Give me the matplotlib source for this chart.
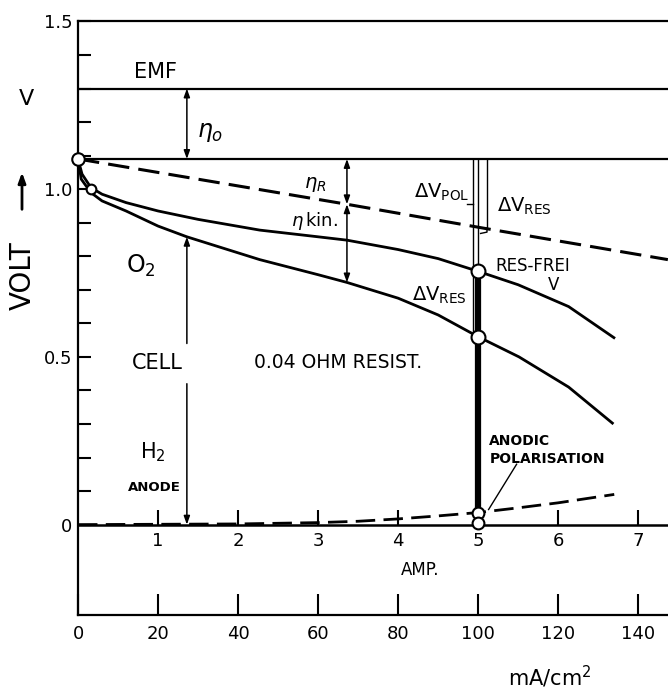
import numpy as np
import matplotlib
matplotlib.use('Agg')
import matplotlib.pyplot as plt
from matplotlib.ticker import FuncFormatter

# readings, current in Amp, potential in Volt
emf = 1.30
rest_v = 1.09

amp_resfree = [0, 0.05, 0.16, 0.3, 0.6, 1.0, 1.5, 2.27, 3.0, 3.36, 4.0, 4.5, 5.0, 5.5, 6.13, 6.71]
v_resfree = [1.09, 1.045, 1.005, 0.985, 0.96, 0.935, 0.91, 0.878, 0.858, 0.848, 0.82, 0.793, 0.755, 0.715, 0.65, 0.555]

amp_cell = [0, 0.04, 0.16, 0.3, 0.6, 1.0, 1.36, 2.27, 3.0, 3.36, 4.0, 4.5, 5.0, 5.51, 6.13, 6.69]
v_cell = [1.09, 1.03, 0.99, 0.965, 0.935, 0.89, 0.858, 0.79, 0.745, 0.722, 0.675, 0.625, 0.56, 0.5, 0.41, 0.30]

amp_ir = [0, 3.36, 5.11, 7.37]
v_ir = [1.09, 0.955, 0.882, 0.79]

amp_anode = [0, 2, 3, 3.5, 4, 4.5, 5, 5.5, 6, 6.7]
v_anode = [0, 0.002, 0.006, 0.01, 0.017, 0.026, 0.036, 0.05, 0.065, 0.09]

amp_ticks = [0, 1, 2, 3, 4, 5, 6, 7]
ma_per_amp = 20   # 5 A -> 100 mA/cm2

i_eta = 1.36      # current where eta_0 and cell arrows sit
i_kin = 3.36
i_op = 5.0

fig = plt.figure(figsize=(6.68, 6.92), dpi=100)
ax = fig.add_axes([0.1168, 0.111, 0.883, 0.858])
ax.set_xlim(0, 7.37)
ax.set_ylim(-0.27, 1.5)

for s in ['left', 'top', 'bottom']:
    ax.spines[s].set_linewidth(1.6)
ax.spines['right'].set_visible(False)

ax.set_yticks([0, 0.5, 1.0, 1.5])
ax.set_yticklabels(['0', '0.5', '1.0', '1.5'])
ax.set_yticks(np.arange(0, 1.5, 0.1), minor=True)
ax.tick_params(axis='y', which='both', direction='in', length=9, width=1.5,
               labelsize=13, pad=4)
ax.set_xticks(amp_ticks)
ax.xaxis.set_major_formatter(FuncFormatter(lambda x, pos: '{:.0f}'.format(x * ma_per_amp)))
ax.tick_params(axis='x', which='both', direction='in', length=15, width=1.5,
               labelsize=13, pad=7)

k = dict(color='black', solid_capstyle='butt')
ax.axhline(emf, lw=1.6, **k)
ax.axhline(rest_v, lw=1.6, **k)
ax.axhline(0, lw=1.8, **k)

# amp scale on the zero line
ax.vlines(amp_ticks[1:], 0, 0.045, lw=1.5, color='black')
for a in amp_ticks[1:]:
    ax.text(a, -0.05, str(a), ha='center', va='center', fontsize=13)
ax.text(4.27, -0.134, 'AMP.', ha='center', va='center', fontsize=12)

ax.plot(amp_resfree, v_resfree, lw=2.0, **k)
ax.plot(amp_cell, v_cell, lw=2.0, **k)
ax.plot(amp_ir, v_ir, lw=2.2, color='black', dashes=(7, 3))
ax.plot(amp_anode, v_anode, lw=2.0, color='black', dashes=(7, 3))

# lines at the operating point
ax.vlines(4.93, rest_v, v_cell[12], lw=1.0, color='black')
ax.vlines(i_op, rest_v, v_resfree[12], lw=1.0, color='black')
ax.vlines(5.11, rest_v, 0.885, lw=1.0, color='black')
ax.plot([5.11, 5.11, 5.03], [0.885, 0.872, 0.868], lw=1.0, color='black')
ax.plot([4.86, 4.93], [0.957, 0.957], lw=1.0, color='black')
ax.vlines(i_op, v_anode[6], v_resfree[12], lw=4.5, color='black')

arr = dict(arrowstyle='<|-|>,head_length=0.5,head_width=0.18', lw=1.1,
           color='black', shrinkA=0, shrinkB=0)
ax.annotate('', xy=(i_eta, emf), xytext=(i_eta, rest_v), arrowprops=arr)
ax.annotate('', xy=(i_kin, rest_v), xytext=(i_kin, 0.955), arrowprops=arr)
ax.annotate('', xy=(i_kin, 0.955), xytext=(i_kin, v_cell[9]), arrowprops=arr)
up = dict(arrowstyle='-|>,head_length=0.5,head_width=0.18', lw=1.1,
          color='black', shrinkA=0, shrinkB=0)
ax.annotate('', xy=(i_eta, v_cell[6]), xytext=(i_eta, 0.54), arrowprops=up)
ax.annotate('', xy=(i_eta, 0.0), xytext=(i_eta, 0.42), arrowprops=up)
ax.plot([5.13, 5.48], [0.045, 0.18], lw=1.0, color='black')

mk = dict(marker='o', mfc='white', mec='black', mew=1.5, ls='none', zorder=5)
ax.plot([0], [rest_v], ms=9, clip_on=False, **mk)
ax.plot([0.16], [1.0], ms=7, **mk)
ax.plot([i_op, i_op], [v_resfree[12], v_cell[12]], ms=10, **mk)
ax.plot([i_op, i_op], [v_anode[6], 0.006], ms=8.5, **mk)

# labels
ax.text(0.97, 1.348, 'EMF', ha='center', va='center', fontsize=15)
ax.text(1.65, 1.17, r'$\eta_o$', ha='center', va='center', fontsize=17)
ax.text(2.97, 1.014, r'$\eta_R$', ha='center', va='center', fontsize=14)
ax.text(2.95, 0.905, r'$\eta\,$kin.', ha='center', va='center', fontsize=13)
ax.text(0.79, 0.77, r'O$_2$', ha='center', va='center', fontsize=17)
ax.text(0.99, 0.483, 'CELL', ha='center', va='center', fontsize=15)
ax.text(3.25, 0.483, '0.04 OHM RESIST.', ha='center', va='center', fontsize=13.5)
ax.text(0.94, 0.215, r'H$_2$', ha='center', va='center', fontsize=15)
ax.text(0.96, 0.11, 'ANODE', ha='center', va='center', fontsize=9.5, fontweight='bold')
ax.text(4.89, 0.99, r'$\Delta$V$_{\rm POL}$', ha='right', va='center', fontsize=14)
ax.text(5.24, 0.95, r'$\Delta$V$_{\rm RES}$', ha='left', va='center', fontsize=14)
ax.text(4.86, 0.683, r'$\Delta$V$_{\rm RES}$', ha='right', va='center', fontsize=14)
ax.text(5.21, 0.772, 'RES-FREI', ha='left', va='center', fontsize=12)
ax.text(5.94, 0.713, 'V', ha='center', va='center', fontsize=12)
ax.text(5.14, 0.25, 'ANODIC', ha='left', va='center', fontsize=10, fontweight='bold')
ax.text(5.14, 0.197, 'POLARISATION', ha='left', va='center', fontsize=10, fontweight='bold')

ax.text(-0.65, 1.27, 'V', ha='center', va='center', fontsize=16)
ax.annotate('', xy=(-0.70, 1.05), xytext=(-0.70, 0.94), annotation_clip=False,
            arrowprops=dict(arrowstyle='-|>,head_length=0.6,head_width=0.22', lw=2,
                            color='black', shrinkA=0, shrinkB=0))
ax.text(-0.69, 0.743, 'VOLT', ha='center', va='center', fontsize=20, rotation=90)
ax.text(5.89, -0.455, r'mA/cm$^2$', ha='center', va='center', fontsize=15)

plt.savefig('out.png', dpi=100)
